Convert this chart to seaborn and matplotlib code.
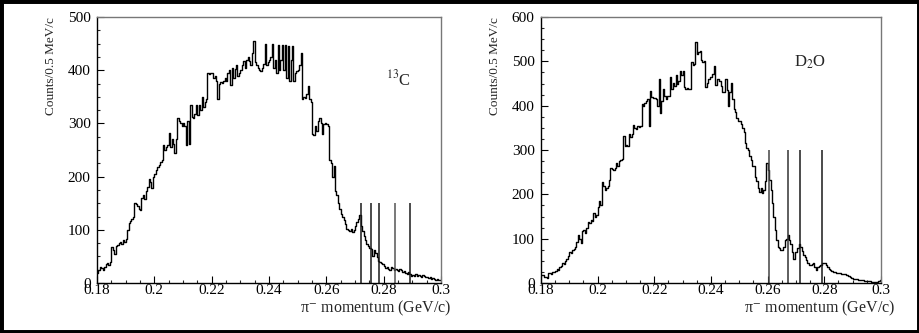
import numpy as np
import pandas as pd
import matplotlib
matplotlib.use("Agg")
import matplotlib.pyplot as plt
from matplotlib.ticker import MultipleLocator, FuncFormatter
from matplotlib.patches import Rectangle
import seaborn as sns

# ---------------- data ----------------
bin_width = 0.0005
x_min, x_max = 0.18, 0.30

# 13C spectrum, counts per 0.5 MeV/c (240 bins from 0.180 to 0.300 GeV/c)
counts_13c = [
    18, 25, 30, 28, 25, 30, 35, 38, 33, 40,
    68, 62, 55, 70, 72, 75, 78, 73, 80, 78,
    82, 100, 112, 116, 120, 125, 150, 148, 145, 140,
    138, 160, 165, 158, 172, 180, 195, 190, 178, 200,
    205, 212, 218, 222, 228, 232, 260, 250, 255, 260,
    282, 256, 270, 262, 245, 270, 310, 305, 300, 296,
    300, 295, 260, 305, 262, 335, 312, 310, 318, 335,
    315, 335, 325, 350, 330, 340, 345, 395, 392, 395,
    395, 385, 390, 380, 345, 375, 378, 376, 380, 385,
    380, 395, 400, 372, 405, 385, 402, 410, 390, 395,
    400, 410, 418, 405, 420, 425, 418, 410, 432, 455,
    415, 410, 405, 400, 398, 405, 412, 450, 410, 415,
    420, 425, 450, 405, 420, 395, 448, 400, 420, 448,
    400, 448, 385, 445, 380, 420, 445, 380, 395, 398,
    400, 410, 432, 345, 350, 348, 355, 370, 345, 340,
    280, 278, 295, 285, 305, 310, 300, 280, 298, 300,
    298, 295, 232, 225, 200, 220, 172, 165, 150, 140,
    130, 125, 118, 110, 102, 100, 98, 102, 96, 100,
    108, 115, 120, 128, 108, 98, 88, 80, 74, 70,
    66, 64, 50, 62, 56, 48, 42, 40, 38, 36,
    32, 28, 30, 26, 25, 30, 28, 24, 27, 25,
    22, 26, 24, 20, 22, 18, 17, 20, 16, 14,
    15, 14, 16, 13, 15, 14, 12, 15, 13, 11,
    12, 10, 11, 8, 9, 7, 6, 7, 5, 6,
]

# D2O spectrum, counts per 0.5 MeV/c (240 bins from 0.180 to 0.300 GeV/c)
counts_d2o = [
    18, 18, 13, 13, 12, 22, 23, 20, 25, 25,
    28, 32, 30, 36, 38, 44, 42, 50, 55, 62,
    70, 68, 74, 76, 82, 93, 108, 100, 90, 118,
    120, 112, 125, 138, 135, 142, 140, 157, 150, 153,
    172, 184, 175, 227, 218, 210, 215, 218, 232, 260,
    257, 255, 260, 271, 265, 275, 278, 280, 331, 309,
    312, 308, 335, 330, 335, 356, 350, 348, 354, 352,
    354, 403, 400, 407, 410, 415, 354, 433, 420, 418,
    418, 415, 400, 460, 384, 411, 437, 422, 415, 422,
    422, 464, 437, 452, 445, 469, 449, 455, 479, 470,
    479, 441, 437, 440, 437, 437, 498, 492, 495, 543,
    517, 522, 524, 502, 498, 500, 441, 452, 460, 464,
    464, 471, 490, 446, 460, 460, 455, 445, 430, 430,
    460, 435, 400, 430, 452, 415, 392, 385, 373, 365,
    365, 358, 350, 340, 316, 305, 301, 286, 278, 265,
    263, 240, 229, 215, 206, 214, 203, 210, 229, 271,
    256, 233, 210, 180, 150, 120, 97, 82, 78, 74,
    74, 82, 97, 100, 108, 97, 89, 70, 55, 70,
    70, 80, 89, 82, 72, 63, 58, 51, 45, 40,
    40, 42, 44, 36, 29, 36, 38, 40, 44, 45,
    44, 40, 36, 32, 29, 27, 25, 24, 23, 23,
    23, 22, 21, 20, 20, 18, 17, 15, 14, 12,
    10, 9, 8, 8, 7, 6, 6, 6, 5, 5,
    5, 4, 5, 3, 3, 2, 2, 3, 4, 6,
]

# marker lines (GeV/c) and their heights
lines_13c = [0.2720, 0.2757, 0.2785, 0.2840, 0.2893]
line_height_13c = 150
lines_d2o = [0.2605, 0.2671, 0.2715, 0.2793]
line_height_d2o = 300

labels = ["$^{13}$C", "D$_2$O"]
ylims = [500, 600]
x_ticks = [0.18, 0.20, 0.22, 0.24, 0.26, 0.28, 0.30]

# ---------------- style ----------------
sns.set_theme(style="ticks")
plt.rcParams["font.family"] = ["Liberation Serif", "DejaVu Serif"]
plt.rcParams["mathtext.fontset"] = "stix"

W, H = 920, 333
fig = plt.figure(figsize=(W / 100, H / 100), dpi=100)
fig.patch.set_facecolor("white")

n_bins = len(counts_13c)
centers = x_min + (np.arange(n_bins) + 0.5) * bin_width

axes_px = [(97, 441), (541, 881)]
top_px, bot_px = 17, 283

def fmt(v, pos):
    s = f"{v:.2f}".rstrip("0").rstrip(".")
    return s

datasets = [
    (counts_13c, lines_13c, line_height_13c, ["k", "k", "k", "#555555", "k"]),
    (counts_d2o, lines_d2o, line_height_d2o, ["#444444", "#333333", "k", "k"]),
]

for i, (counts, vlines, vh, vcols) in enumerate(datasets):
    l, r = axes_px[i]
    ax = fig.add_axes([l / W, 1 - bot_px / H, (r - l) / W, (bot_px - top_px) / H])
    df = pd.DataFrame({"p": centers, "n": np.asarray(counts, dtype=float)})
    sns.histplot(data=df, x="p", weights="n", bins=n_bins,
                 binrange=(x_min, x_max), element="step",
                 fill=False, color="black", linewidth=1.0, ax=ax)
    for xv, c in zip(vlines, vcols):
        ax.vlines(xv, 0, vh, color=c, linewidth=1.1)
    ax.set_xlim(x_min, x_max)
    ax.set_ylim(0, ylims[i])
    ax.set_xlabel("")
    ax.set_ylabel("")
    ax.set_xticks(x_ticks)
    ax.xaxis.set_major_formatter(FuncFormatter(fmt))
    ax.xaxis.set_minor_locator(MultipleLocator(0.005))
    ax.yaxis.set_major_locator(MultipleLocator(100))
    ax.yaxis.set_minor_locator(MultipleLocator(25))
    ax.tick_params(axis="both", which="major", direction="in", length=5,
                   width=0.8, labelsize=11, pad=1.0, colors="black")
    ax.tick_params(axis="both", which="minor", direction="in", length=2.5,
                   width=0.8)
    ax.tick_params(axis="y", which="major", pad=4.5)
    for s in ["left", "bottom"]:
        ax.spines[s].set_color("black")
        ax.spines[s].set_linewidth(1.0)
    for s in ["top", "right"]:
        ax.spines[s].set_color("#777777")
        ax.spines[s].set_linewidth(1.0)
    ax.text(-0.135, 1.0, "Counts/0.5 MeV/c", rotation=90, transform=ax.transAxes,
            ha="center", va="top", fontsize=9.5)
    ax.text(1.03 if i == 0 else 1.042, -0.094, "π$^{-}$ momentum (GeV/c)",
            transform=ax.transAxes, ha="right", va="center", fontsize=11.5)
    if i == 0:
        ax.text(0.84, 0.765, labels[i], transform=ax.transAxes, fontsize=12,
                ha="left", va="center")
    else:
        ax.text(0.745, 0.83, labels[i], transform=ax.transAxes, fontsize=12,
                ha="left", va="center")

# outer black frame
fig.patches.append(Rectangle((0, 0), 1, 1, transform=fig.transFigure,
                             fill=False, edgecolor="black", linewidth=5,
                             zorder=10))

fig.savefig("out.png", dpi=100, facecolor="white")
